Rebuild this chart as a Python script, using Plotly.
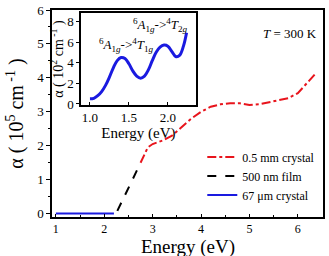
import plotly.graph_objects as go

# Main panel data
blue_x = [1.0, 1.5, 2.0, 2.2]
blue_y = [0.0, 0.0, 0.0, 0.0]
black_x = [2.27, 2.4, 2.5, 2.6, 2.75]
black_y = [0.08, 0.45, 0.75, 1.05, 1.5]
red_x = [2.75, 2.8, 2.9, 3.0, 3.2, 3.4, 3.6, 3.8, 4.0, 4.2, 4.4, 4.6, 4.8, 5.0, 5.2, 5.4, 5.6, 5.8, 6.0, 6.2, 6.35]
red_y = [1.5, 1.65, 1.95, 2.05, 2.15, 2.3, 2.55, 2.8, 3.0, 3.15, 3.22, 3.25, 3.25, 3.2, 3.22, 3.28, 3.32, 3.4, 3.55, 3.85, 4.1]

# Inset data
ins_x = [1.0, 1.05, 1.1, 1.15, 1.2, 1.25, 1.3, 1.35, 1.4, 1.45, 1.5, 1.55, 1.6, 1.65, 1.7, 1.75, 1.8, 1.85, 1.9, 1.95, 2.0, 2.05, 2.1, 2.15, 2.2, 2.24]
ins_y = [0.5, 0.55, 0.8, 1.2, 1.8, 2.6, 3.5, 4.2, 4.5, 4.4, 3.9, 3.2, 2.7, 2.5, 2.7, 3.3, 4.2, 5.0, 5.5, 5.7, 5.6, 5.1, 4.6, 4.7, 5.6, 6.9]

FONT = "Liberation Serif"

fig = go.Figure()
fig.add_trace(go.Scatter(x=red_x, y=red_y, mode="lines", name="0.5 mm crystal",
                         line=dict(color="#e8141c", width=2, dash="dashdot")))
fig.add_trace(go.Scatter(x=black_x, y=black_y, mode="lines", name="500 nm film",
                         line=dict(color="black", width=2, dash="dash")))
fig.add_trace(go.Scatter(x=blue_x, y=blue_y, mode="lines", name="67 μm crystal",
                         line=dict(color="#1a1ae0", width=2)))
fig.add_trace(go.Scatter(x=ins_x, y=ins_y, mode="lines", showlegend=False,
                         line=dict(color="#1a1ae0", width=3, shape="spline"),
                         xaxis="x2", yaxis="y2"))

axis_common = dict(showline=True, linecolor="black", linewidth=1.5, mirror=True,
                   tickwidth=1, tickcolor="black",
                   showgrid=False, zeroline=False, automargin=False)

fig.update_layout(
    width=329, height=256,
    margin=dict(l=52, r=6, t=10, b=39),
    paper_bgcolor="white", plot_bgcolor="white",
    font=dict(family=FONT, color="black", size=12),
    xaxis=dict(range=[0.92, 6.52], tickvals=[1, 2, 3, 4, 5, 6], ticks="inside", ticklen=3,
               minor=dict(ticks="inside", ticklen=2, tickcolor="black", dtick=0.5),
               tickfont=dict(size=12),
               **axis_common),
    yaxis=dict(range=[-0.1, 6.0], tickvals=[0, 1, 2, 3, 4, 5, 6], ticks="outside", ticklen=4,
               minor=dict(ticks="outside", ticklen=2, tickcolor="black", dtick=0.5),
               tickfont=dict(size=13),
               title=dict(text="α ( 10<sup>5</sup> cm<sup> -1</sup> )", font=dict(size=20), standoff=8),
               **axis_common),
    xaxis2=dict(domain=[0.107, 0.531], anchor="y2", range=[0.885, 2.36],
                tickvals=[1.0, 1.5, 2.0], ticktext=["1.0", "1.5", "2.0"],
                ticks="inside", ticklen=3,
                tickfont=dict(size=13),
                title=dict(text="Energy (eV)", font=dict(size=15), standoff=0),
                **axis_common),
    yaxis2=dict(domain=[0.541, 0.985], anchor="x2", range=[-0.1, 8.8],
                tickvals=[0, 2, 4, 6, 8], tickfont=dict(size=13), ticks="outside", ticklen=3,
                title=dict(text="α ( 10<sup>2</sup> cm<sup> -1</sup> )", font=dict(size=14), standoff=0),
                **axis_common),
    legend=dict(x=0.99, y=0.36, xanchor="right", yanchor="top",
                bgcolor="rgba(0,0,0,0)", font=dict(size=12),
                tracegroupgap=0, itemwidth=30),
    showlegend=True,
)

# main x-axis title placed just below the tick labels
fig.add_annotation(x=0.5, y=-0.089, xref="paper", yref="paper", xanchor="center", yanchor="top",
                   text="Energy (eV)", showarrow=False, font=dict(size=19), borderpad=0)
fig.add_annotation(x=0.985, y=0.93, xref="paper", yref="paper", xanchor="right",
                   text="<i>T</i> = 300 K", showarrow=False, font=dict(size=13))
fig.add_annotation(xref="x2", yref="y2", x=1.9, y=7.6, showarrow=False,
                   text="<sup>6</sup><i>A</i><sub>1<i>g</i></sub>-><sup>4</sup><i>T</i><sub>2<i>g</i></sub>",
                   font=dict(size=13))
fig.add_annotation(xref="x2", yref="y2", x=1.47, y=5.7, showarrow=False,
                   text="<sup>6</sup><i>A</i><sub>1<i>g</i></sub>-><sup>4</sup><i>T</i><sub>1<i>g</i></sub>",
                   font=dict(size=13))

fig.write_html("out.html")
